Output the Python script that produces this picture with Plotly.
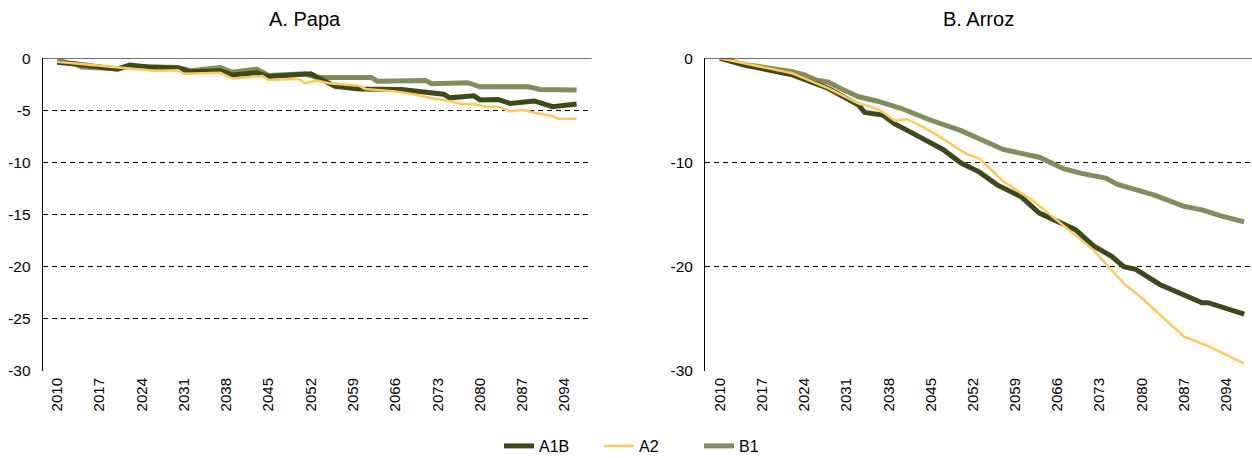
import plotly.graph_objects as go

# ---- Papa (panel A): vertex years and values per scenario ----
papa_a1b_years = [2010, 2013, 2020, 2022, 2025, 2030, 2032, 2037, 2039, 2043, 2045, 2050, 2052,
                  2056, 2060, 2067, 2069, 2072, 2074, 2075, 2079, 2080, 2083, 2085, 2089, 2092, 2096]
papa_a1b = [-0.4, -0.55, -1.05, -0.65, -0.85, -0.95, -1.3, -1.2, -1.6, -1.4, -1.75, -1.55, -1.5,
            -2.7, -2.95, -3.0, -3.1, -3.35, -3.45, -3.8, -3.6, -4.0, -3.95, -4.35, -4.1, -4.65, -4.4]

papa_a2_years = [2010, 2026, 2030, 2031, 2037, 2039, 2044, 2045, 2050, 2051, 2053, 2055, 2060, 2061,
                 2066, 2069, 2072, 2074, 2077, 2079, 2081, 2083, 2085, 2087, 2090, 2092, 2093, 2096]
papa_a2 = [-0.35, -1.2, -1.15, -1.5, -1.4, -1.95, -1.7, -2.1, -2.0, -2.4, -2.15, -2.4, -2.65, -2.95,
           -3.2, -3.45, -3.85, -4.0, -4.4, -4.4, -4.65, -4.65, -5.1, -4.95, -5.35, -5.55, -5.8, -5.8]

papa_b1_years = [2010, 2013, 2014, 2020, 2022, 2025, 2030, 2032, 2037, 2039, 2043, 2045, 2051, 2053,
                 2062, 2063, 2071, 2072, 2078, 2080, 2088, 2090, 2096]
papa_b1 = [-0.25, -0.55, -0.85, -1.0, -0.8, -0.85, -0.9, -1.2, -0.9, -1.35, -1.05, -1.65, -1.5, -1.85,
           -1.85, -2.2, -2.15, -2.45, -2.35, -2.75, -2.75, -3.0, -3.05]

# ---- Arroz (panel B) ----
arroz_a1b_years = [2010, 2014, 2022, 2025, 2028, 2033, 2034, 2037, 2039, 2041, 2044, 2047, 2050, 2053,
                   2056, 2060, 2063, 2066, 2069, 2072, 2075, 2077, 2079, 2083, 2087, 2090, 2091, 2094, 2097]
arroz_a1b = [0.0, -0.65, -1.6, -2.25, -2.9, -4.5, -5.2, -5.45, -6.3, -6.9, -7.85, -8.75, -10.05, -10.9,
             -12.15, -13.3, -14.85, -15.65, -16.45, -18.0, -19.0, -20.0, -20.25, -21.7, -22.7, -23.45,
             -23.45, -24.05, -24.55]

arroz_a2_years = [2010, 2022, 2028, 2033, 2035, 2037, 2039, 2041, 2043, 2046, 2050, 2051, 2053, 2057,
                  2062, 2066, 2070, 2072, 2077, 2080, 2087, 2091, 2097]
arroz_a2 = [0.0, -1.45, -2.9, -4.35, -4.65, -5.15, -6.0, -5.85, -6.4, -7.35, -8.85, -9.2, -9.6, -11.8,
            -13.7, -15.6, -17.5, -18.4, -21.6, -23.0, -26.7, -27.6, -29.3]

arroz_b1_years = [2010, 2013, 2022, 2024, 2026, 2028, 2030, 2033, 2036, 2040, 2045, 2050, 2057, 2061,
                  2063, 2067, 2070, 2074, 2076, 2082, 2087, 2090, 2093, 2097]
arroz_b1 = [0.0, -0.5, -1.3, -1.6, -2.1, -2.3, -2.9, -3.7, -4.1, -4.8, -5.95, -6.95, -8.75, -9.3,
            -9.5, -10.6, -11.05, -11.5, -12.1, -13.1, -14.2, -14.55, -15.1, -15.7]

# ---- axis ticks and labels ----
year_ticks = list(range(2010, 2095, 7))
papa_y_ticks = [0, -5, -10, -15, -20, -25, -30]
arroz_y_ticks = [0, -10, -20, -30]
panel_titles = ["A. Papa", "B. Arroz"]

W, H = 1252, 458
FONT = "Liberation Sans, Arial, sans-serif"
COLORS = {"A1B": "#3b4a18", "A2": "#ffc75e", "B1": "#818d5a"}
WIDTHS = {"A1B": 5, "A2": 2.5, "B1": 5}
RANK = {"A1B": 1, "A2": 2, "B1": 3}

fig = go.Figure()

panels = [
    ("x", "y", {"B1": (papa_b1_years, papa_b1), "A1B": (papa_a1b_years, papa_a1b),
                "A2": (papa_a2_years, papa_a2)}, True),
    ("x2", "y2", {"B1": (arroz_b1_years, arroz_b1), "A1B": (arroz_a1b_years, arroz_a1b),
                  "A2": (arroz_a2_years, arroz_a2)}, False),
]

for xa, ya, series, show in panels:
    for name in ["B1", "A1B", "A2"]:
        xs, ys = series[name]
        fig.add_trace(go.Scatter(
            x=xs, y=ys, name=name, mode="lines", xaxis=xa, yaxis=ya,
            line=dict(color=COLORS[name], width=WIDTHS[name]),
            showlegend=show, legendrank=RANK[name], hoverinfo="skip",
        ))

def px_x(p):
    return p / W

def px_y(p):
    return 1 - p / H

y_dom = [px_y(371), px_y(58.2)]
grid = dict(showgrid=True, gridcolor="black", gridwidth=1, griddash="5px,4px",
            zeroline=False, showline=True, linecolor="black", linewidth=1,
            ticks="", range=[-30, 0], automargin=False,
            tickfont=dict(family=FONT, size=15.5, color="black"), ticklabelstandoff=8)
xcommon = dict(showgrid=False, zeroline=False, showline=False, ticks="",
               tickvals=year_ticks, ticktext=[str(v) for v in year_ticks], tickangle=-90,
               automargin=False, ticklabelstandoff=3,
               tickfont=dict(family=FONT, size=15, color="black"))

fig.update_layout(
    width=W, height=H,
    margin=dict(l=0, r=0, t=0, b=0, autoexpand=False),
    paper_bgcolor="white", plot_bgcolor="white",
    xaxis=dict(domain=[px_x(42.7), px_x(591.7)], range=[2007.6, 2098.5], anchor="y", **xcommon),
    yaxis=dict(domain=y_dom, anchor="x", tickvals=papa_y_ticks,
               ticktext=[str(v) for v in papa_y_ticks], **grid),
    xaxis2=dict(domain=[px_x(705), 1.0], range=[2007.5, 2098.3], anchor="y2", **xcommon),
    yaxis2=dict(domain=y_dom, anchor="x2", tickvals=arroz_y_ticks,
                ticktext=[str(v) for v in arroz_y_ticks], **grid),
    legend=dict(orientation="h", x=px_x(499), xanchor="left", y=px_y(463), yanchor="bottom",
                entrywidth=55, entrywidthmode="pixels", traceorder="normal",
                font=dict(family=FONT, size=16, color="black"), bgcolor="rgba(0,0,0,0)"),
    showlegend=True,
)

# Horizontal axis line crossing at zero (top edge of each panel)
for xa, ya in [("x", "y"), ("x2", "y2")]:
    fig.add_shape(type="line", xref=f"{xa} domain", yref=ya, x0=0, x1=1, y0=0, y1=0,
                  line=dict(color="black", width=1.3), layer="above")

for title, cx in zip(panel_titles, [305, 978]):
    fig.add_annotation(text=title, xref="paper", yref="paper", x=px_x(cx), y=px_y(19),
                       xanchor="center", yanchor="middle", showarrow=False,
                       font=dict(family=FONT, size=20, color="black"))

fig.write_html("out.html")
